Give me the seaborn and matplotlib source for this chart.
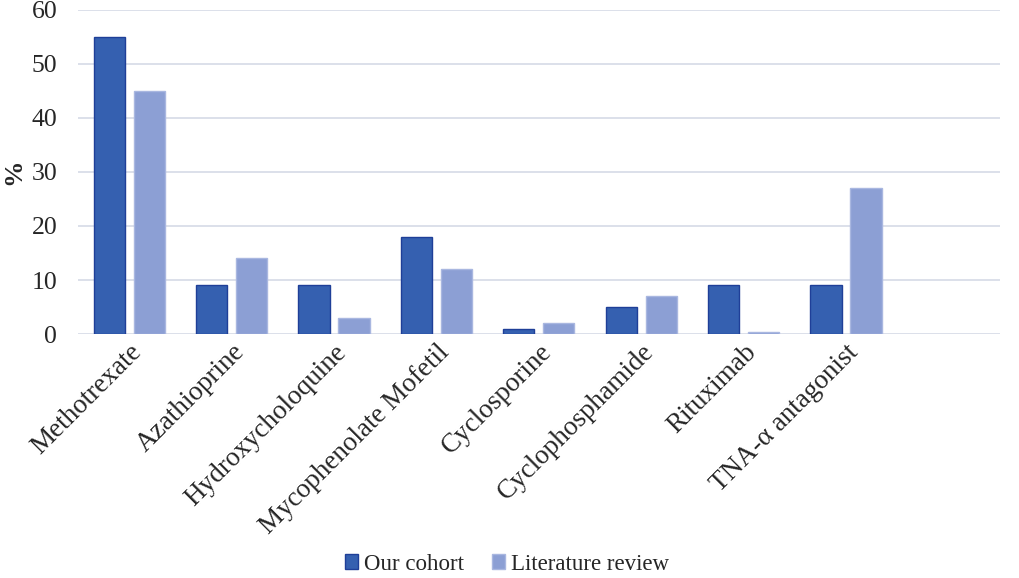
import numpy as np
import pandas as pd
import matplotlib
matplotlib.use("Agg")
import matplotlib.pyplot as plt
import seaborn as sns

drugs = ["Methotrexate", "Azathioprine", "Hydroxycholoquine", "Mycophenolate Mofetil",
         "Cyclosporine", "Cyclophosphamide", "Rituximab", "TNA-\u03b1 antagonist"]
our_cohort = [55, 9, 9, 18, 1, 5, 9, 9]
literature = [45, 14, 3, 12, 2, 7, 0.3, 27]
series = ["Our cohort", "Literature review"]
y_ticks = [0, 10, 20, 30, 40, 50, 60]

sns.set_theme(style="white")
plt.rcParams["font.family"] = ["Liberation Serif", "DejaVu Serif"]

df = pd.DataFrame({
    "drug": drugs * 2,
    "value": our_cohort + literature,
    "series": [series[0]] * len(drugs) + [series[1]] * len(drugs),
})

fig = plt.figure(figsize=(10.2, 5.78), dpi=100)
ax = fig.add_axes([0.0765, 0.422, 0.9035, 0.561])

ax.yaxis.grid(True, color="#D9DDE8", lw=1.3)
ax.set_axisbelow(True)

sns.barplot(data=df, x="drug", y="value", hue="series", order=drugs,
            palette=["#3560B0", "#8C9FD4"], width=0.78, gap=0.22,
            saturation=1, ax=ax, legend=True)

for p in ax.patches:
    fc = p.get_facecolor()
    if fc[0] < 0.4:
        p.set_edgecolor("#1F3F98")
    else:
        p.set_edgecolor("#A9B7E0")
    p.set_linewidth(1.0)

ax.set_xlim(-0.5, 8.5)
ax.set_ylim(0, 60)
ax.set_yticks(y_ticks)
ax.tick_params(axis="y", labelsize=18.5, length=0, pad=15)
ax.tick_params(axis="x", labelsize=19.5, length=0, pad=4)
ax.set_xticks(range(len(drugs)))
ax.set_xticklabels(drugs, rotation=45, ha="right", rotation_mode="anchor")
ax.set_xlabel("")
ax.set_ylabel("%", fontsize=19, fontweight="bold")
ax.yaxis.set_label_coords(-0.057, 0.5)
for s in ax.spines.values():
    s.set_visible(False)

handles, labels = ax.get_legend_handles_labels()
ax.legend_.remove()
fig.legend(handles, labels, loc="lower center", bbox_to_anchor=(0.497, -0.03), ncol=2,
           frameon=False, fontsize=16.5, handlelength=0.6, handleheight=0.6,
           handletextpad=0.25, columnspacing=1.2)

fig.savefig("out.png", dpi=100)
